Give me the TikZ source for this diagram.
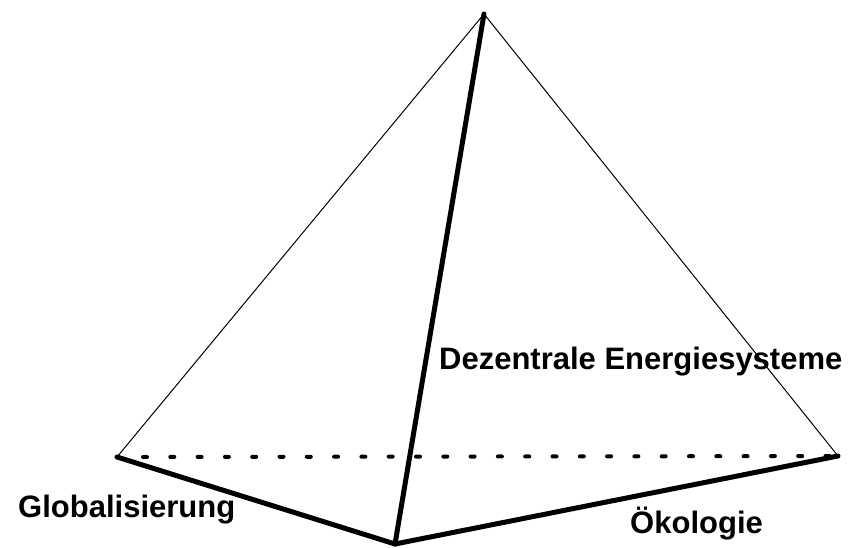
\documentclass[tikz,border=0pt]{standalone}
\usepackage{fontspec}
\setmainfont{Liberation Sans}
\begin{document}
\begin{tikzpicture}[x=1pt,y=-1pt,
  thin edge/.style={line width=1pt},
  thick edge/.style={line width=5pt,line cap=round},
  dotline/.style={line width=4pt,line cap=round,dash pattern=on 4pt off 23.3pt},
  lbl/.style={font=\bfseries\fontsize{31}{36}\selectfont,anchor=base west,inner sep=0pt}]
\useasboundingbox (0,0) rectangle (857,548);
\coordinate (A) at (484,14);
\coordinate (L) at (117,457);
\coordinate (R) at (838,456);
\coordinate (F) at (395,544);
\draw[thin edge] (L) -- (A) -- (R);
\draw[dotline] ([xshift=26pt]L) -- (R);
\draw[thick edge] (L) -- (F) -- (R);
\draw[thick edge] (A) -- (F);
\node[lbl] (d) at (439,369) {Dezentrale Energiesysteme};
\node[lbl] (g) at (18,517) {Globalisierung};
\node[lbl] (o) at (630,533) {Ökologie};
\end{tikzpicture}
\end{document}
